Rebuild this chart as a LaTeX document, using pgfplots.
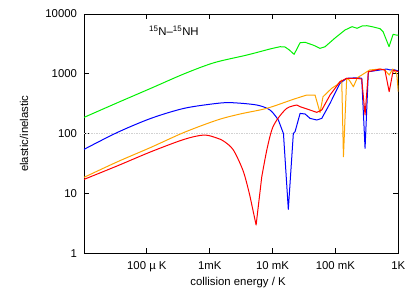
\documentclass[border=0pt]{standalone}
\usepackage{fontspec}
\setmainfont{Liberation Sans}
\usepackage{pgfplots}
\pgfplotsset{compat=1.18}
\definecolor{cgreen}{RGB}{0,240,0}
\definecolor{cblue}{RGB}{0,0,255}
\definecolor{cred}{RGB}{255,0,0}
\definecolor{corange}{RGB}{255,165,0}
\begin{document}
\fontsize{11.4}{13}\selectfont
\begin{tikzpicture}
\useasboundingbox (0,0) rectangle (415bp,291bp);
\begin{axis}[
  at={(84bp,37.7bp)}, anchor=south west,
  scale only axis, width=314.3bp, height=239.3bp,
  xmode=log, ymode=log,
  xmin=1e-5, xmax=1, ymin=1, ymax=10000,
  xtick={1e-4,1e-3,1e-2,1e-1,1},
  xticklabels={100 µ K, 1mK, 10 mK, 100 mK, 1K},
  ytick={1,10,100,1000,10000},
  yticklabels={1,10,100,1000,10000},
  xminorticks=false, yminorticks=false,
  tick align=inside,
  major tick length=5bp,
  axis line style={line width=0.9bp},
  tick style={black, line width=0.9bp},
  xticklabel style={yshift=-4.5bp},
  yticklabel style={xshift=-3bp},
  every axis x label/.style={at={(axis description cs:0.49,-0.1325)}, anchor=base},
  every axis y label/.style={at={(axis description cs:-0.178,0.5)}, rotate=90, anchor=base},
  xlabel={collision energy / K},
  ylabel={elastic/inelastic},
  every axis plot/.append style={line width=1bp, line join=round},
]
\addplot[gray!35, dash pattern=on 1.5bp off 1bp, line width=1bp] coordinates {(1e-5,100) (1,100)};
% green
\addplot[cgreen, smooth, tension=0.5] coordinates {
(1e-5,187) (3.41e-5,329) (1.16e-4,573) (3.92e-4,1000)
(1.175e-3,1535) (3.9e-3,2060) (9.1e-3,2600) (0.0132,2840)
};
\addplot[cgreen] coordinates {
(0.0132,2840) (0.0158,2806)
(0.0185,2500) (0.022,2118) (0.0274,3311) (0.0329,3365) (0.045,3000)
(0.0569,2667) (0.0684,2837) (0.0986,3974) (0.142,5400) (0.184,6140)
(0.221,5770) (0.265,6300) (0.318,6370) (0.383,6140) (0.513,5680)
(0.573,5060) (0.713,2840) (0.826,4570) (0.922,4455) (1.0,4455)
};
% blue
\addplot[cblue, smooth, tension=0.5] coordinates {
(1e-5,54.6) (3.41e-5,105) (1.16e-4,180) (3.92e-4,265)
(1.32e-3,321) (2.3e-3,329) (5.61e-3,301) (9.12e-3,248) (0.01236,169)
};
\addplot[cblue] coordinates {
(0.01236,169)
(0.0149,100) (0.0178,5.42) (0.0214,101) (0.0228,108) (0.0274,218)
(0.0329,213) (0.0395,180) (0.0505,169) (0.0606,180) (0.082,321)
(0.118,693) (0.151,841) (0.231,861) (0.262,841) (0.296,56.8)
(0.334,1084) (0.512,1159) (0.654,1203) (0.738,1159) (0.887,1159) (1.0,1115)
};
% orange
\addplot[corange, smooth, tension=0.5] coordinates {
(1e-5,18.6) (3.41e-5,33.9) (1.16e-4,59) (3.92e-4,105)
(1.32e-3,169) (3.04e-3,213) (8.09e-3,265) (0.0214,375) (0.035,442)
};
\addplot[corange] coordinates {
(0.035,442) (0.0474,442) (0.0569,224) (0.0634,414) (0.0873,573)
(0.105,650) (0.126,787) (0.134,41.1) (0.151,841) (0.166,787)
(0.193,608) (0.223,861) (0.262,955) (0.35,1159) (0.512,1203)
(0.612,1159) (0.716,955) (0.815,1203) (0.944,1000) (1.0,502)
};
% red
\addplot[cred, smooth, tension=0.5] coordinates {
(1e-5,17.2) (3.41e-5,29) (1.16e-4,49.8) (3.92e-4,80.3) (8.15e-4,94.8)
(1.32e-3,84) (1.7e-3,74) (2.38e-3,53.2) (3.44e-3,23.1) (4.39e-3,8.8)
};
\addplot[cred] coordinates {
(4.39e-3,8.8) (5.47e-3,2.97) (6.73e-3,19)
};
\addplot[cred, smooth, tension=0.5] coordinates {
(6.73e-3,19) (8.09e-3,53.2) (9.71e-3,115) (0.01167,169)
(0.0168,265) (0.0243,301)
};
\addplot[cred] coordinates {
(0.0243,301) (0.0274,282) (0.0395,248) (0.0505,227)
(0.0606,248) (0.082,442) (0.118,738) (0.151,841) (0.218,841)
(0.262,818) (0.296,205) (0.334,1084) (0.512,1203) (0.612,1159)
(0.716,502) (0.832,1159) (1.0,1084)
};
\node at (rel axis cs:0.286,0.929) {\textsuperscript{15}N–\textsuperscript{15}NH};
\end{axis}
\end{tikzpicture}
\end{document}
